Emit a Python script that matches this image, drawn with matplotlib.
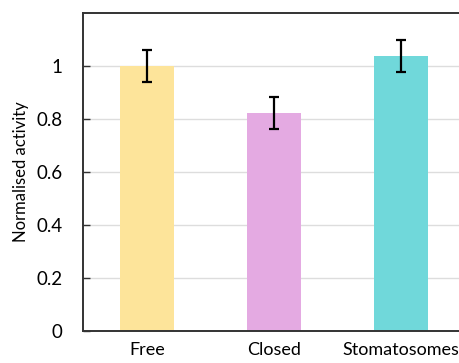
import matplotlib
matplotlib.use("Agg")
import matplotlib.pyplot as plt

categories = ["Free", "Closed", "Stomatosomes"]
activity = [1.0, 0.823, 1.039]
errors = [0.06, 0.06, 0.06]
bar_colors = ["#FDE49A", "#E4AAE2", "#70D8DA"]
yticks = [0, 0.2, 0.4, 0.6, 0.8, 1.0]
ytick_labels = ["0", "0.2", "0.4", "0.6", "0.8", "1"]

plt.rcParams["font.family"] = ["Lato", "DejaVu Sans"]

W, H = 460, 363
fig = plt.figure(figsize=(W / 100, H / 100), dpi=100)
ax = fig.add_axes([83 / W, 1 - 331 / H, (W - 83) / W, (331 - 13) / H])

x = list(range(len(categories)))
ax.bar(x, activity, width=0.425, color=bar_colors, zorder=2)
ax.errorbar(x, activity, yerr=errors, fmt="none", ecolor="black",
            elinewidth=1.6, capsize=3.5, capthick=1.6, zorder=3)

ax.set_xlim(-0.504, 2.465)
ax.set_ylim(0, 1.2)
ax.set_yticks(yticks)
ax.set_yticklabels(ytick_labels, fontsize=13.5)
ax.set_xticks(x)
ax.set_xticklabels(categories, fontsize=13)
ax.tick_params(axis="x", length=0, pad=8)
ax.tick_params(axis="y", direction="in", length=5, width=1, color="#333333", pad=15)
ax.grid(axis="y", color="#dddddd", linewidth=1, zorder=0)
ax.set_ylabel("Normalised activity", fontsize=12, labelpad=5)

ax.spines["right"].set_visible(False)
for s in ("top", "left", "bottom"):
    ax.spines[s].set_color("#333333")
    ax.spines[s].set_linewidth(1.4)

fig.savefig("out.png", dpi=100)
